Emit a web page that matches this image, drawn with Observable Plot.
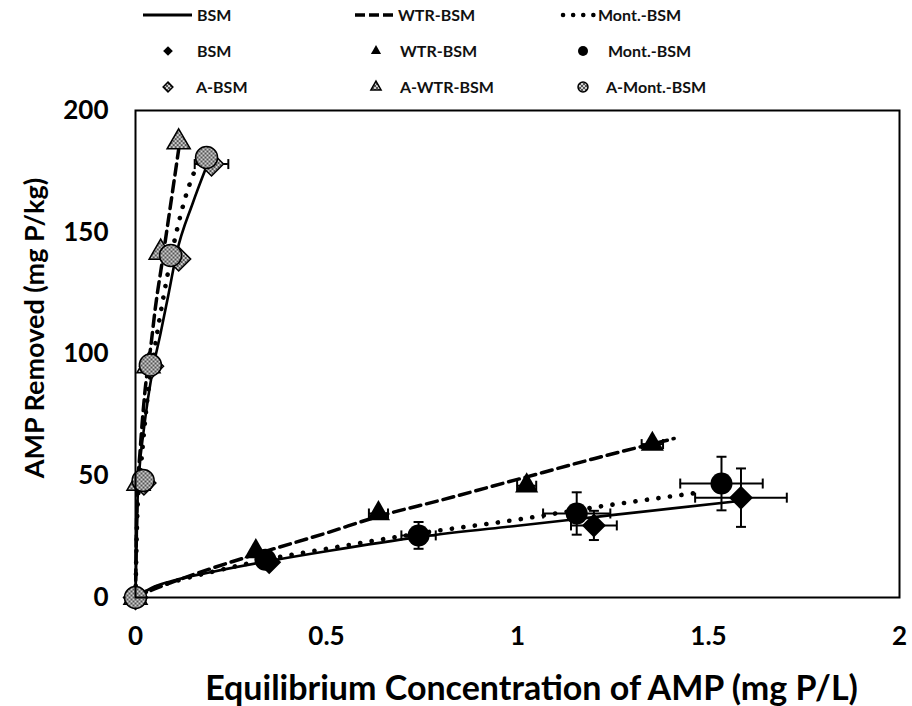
<!DOCTYPE html>
<html><head><meta charset="utf-8">
<script src="https://cdn.jsdelivr.net/npm/d3@7"></script>
<script src="https://cdn.jsdelivr.net/npm/@observablehq/plot@0.6"></script>
<style>body{margin:0;background:#fff;} svg{display:block}</style>
</head><body><div id="chart"></div>
<script>
// ---- axis ticks & titles ----
const xTicks = [0, 0.5, 1, 1.5, 2];
const yTicks = [0, 50, 100, 150, 200];
const xTitle = "Equilibrium Concentration of AMP (mg P/L)";
const yTitle = "AMP Removed (mg P/kg)";

// ---- measured points ----
const bsmX = [0, 0.35, 1.2, 1.585];
const bsmY = [0, 14.5, 29.6, 41];
const bsmXErr = [0, 0, 0.06, 0.12];
const bsmYErr = [0, 0, 6, 12];

const wtrX = [0, 0.315, 0.636, 1.024, 1.353];
const wtrY = [0, 18.9, 34.5, 45.9, 63];
const wtrXErr = [0, 0, 0.025, 0.025, 0.028];
const wtrYErr = [0, 0, 0, 0, 0];

const monX = [0, 0.34, 0.741, 1.155, 1.534];
const monY = [0, 15.5, 25.5, 34.5, 46.8];
const monXErr = [0, 0, 0.045, 0.088, 0.108];
const monYErr = [0, 0, 5.5, 8.7, 11];

const aBsmX = [0, 0.022, 0.042, 0.113, 0.199];
const aBsmY = [0, 47, 95, 139, 178];
const aBsmXErr = [0, 0, 0, 0, 0.044];
const aBsmYErr = [0, 0, 0, 0, 0];

const aWtrX = [0, 0.008, 0.034, 0.066, 0.113];
const aWtrY = [0, 46.8, 95, 141.7, 187];

const aMonX = [0, 0.02, 0.039, 0.092, 0.186];
const aMonY = [0, 48, 95.5, 140.5, 180.7];

// ---- fitted curves ----
const bsmFitX = [0, 0.05, 0.1, 0.2, 0.35, 0.5, 0.75, 1.0, 1.2, 1.4, 1.575];
const bsmFitY = [0, 4.5, 7, 10.5, 15, 19, 25, 29.5, 33, 36.5, 39.5];
const monFitX = [0, 0.05, 0.1, 0.2, 0.34, 0.5, 0.75, 1.0, 1.2, 1.47];
const monFitY = [0, 4, 6.5, 10.5, 15.5, 20, 26.5, 32, 37, 43];
const wtrFitX = [0, 0.05, 0.1, 0.2, 0.32, 0.5, 0.64, 0.8, 1.0, 1.2, 1.41];
const wtrFitY = [0, 3.5, 6.5, 12, 18, 26.5, 33.5, 40, 48.5, 57, 65.3];
const aBsmFitX = [0, 0.005, 0.01, 0.021, 0.033, 0.047, 0.065, 0.087, 0.107, 0.15, 0.186];
const aBsmFitY = [0, 38, 52, 68, 82, 95, 108, 125, 141, 162, 177];
const aMonFitX = [0, 0.005, 0.015, 0.03, 0.05, 0.075, 0.1, 0.13, 0.165];
const aMonFitY = [0, 35, 55, 80, 102, 125, 145, 164, 179];
const aWtrFitX = [0, 0.004, 0.012, 0.025, 0.04, 0.052, 0.07, 0.086, 0.1, 0.113];
const aWtrFitY = [0, 40, 60, 85, 103, 119, 138, 155, 170, 184];

// ---- legend ----
const legendLineLabels = ["BSM", "WTR-BSM", "Mont.-BSM"];
const legendPointLabels = ["BSM", "WTR-BSM", "Mont.-BSM"];
const legendAdsLabels = ["A-BSM", "A-WTR-BSM", "A-Mont.-BSM"];

// ---- helpers ----
const pts = (xs, ys) => xs.map((x, i) => ({x, y: ys[i]}));
const errs = (xs, ys, dxs, dys) => xs.map((x, i) => ({x, y: ys[i], dx: dxs[i], dy: dys[i]}));
const allErr = [
  ...errs(bsmX, bsmY, bsmXErr, bsmYErr),
  ...errs(wtrX, wtrY, wtrXErr, wtrYErr),
  ...errs(monX, monY, monXErr, monYErr),
  ...errs(aBsmX, aBsmY, aBsmXErr, aBsmYErr)
];
const errV = allErr.filter(d => d.dy > 0);
const errH = allErr.filter(d => d.dx > 0);
const capH = {draw(ctx, size) { const r = Math.sqrt(size / Math.PI); ctx.moveTo(-r, 0); ctx.lineTo(r, 0); }};
const capV = {draw(ctx, size) { const r = Math.sqrt(size / Math.PI); ctx.moveTo(0, -r); ctx.lineTo(0, r); }};

const solid = {stroke: "#000", strokeWidth: 2.6, curve: "monotone-x"};
const dashed = {stroke: "#000", strokeWidth: 3.5, strokeDasharray: "11,6", curve: "monotone-x"};
const dotted = {stroke: "#000", strokeWidth: 4.6, strokeDasharray: "0.1,11.5", strokeLinecap: "round", curve: "monotone-x"};
const HATCH = "url(#hatch)";

const svg = Plot.plot({
  width: 912, height: 706,
  marginLeft: 135, marginRight: 13, marginTop: 110, marginBottom: 109,
  style: {fontFamily: "Lato, 'Open Sans', sans-serif", fontSize: "26px", fontWeight: "bold", color: "#000", background: "#fff"},
  x: {domain: [0, 2], ticks: xTicks, tickFormat: d => String(d), tickSize: 0, tickPadding: 29, label: null},
  y: {domain: [0, 200], ticks: yTicks, tickFormat: d => String(d), tickSize: 0, tickPadding: 27, label: null},
  marks: [
    Plot.line(pts(aBsmFitX, aBsmFitY), {x: "x", y: "y", ...solid}),
    Plot.line(pts(aWtrFitX, aWtrFitY), {x: "x", y: "y", ...dashed}),
    Plot.line(pts(aMonFitX, aMonFitY), {x: "x", y: "y", ...dotted}),
    Plot.line(pts(bsmFitX, bsmFitY), {x: "x", y: "y", ...solid}),
    Plot.line(pts(wtrFitX, wtrFitY), {x: "x", y: "y", ...dashed}),
    Plot.line(pts(monFitX, monFitY), {x: "x", y: "y", ...dotted}),
    Plot.ruleX(errV, {x: "x", y1: d => d.y - d.dy, y2: d => d.y + d.dy, stroke: "#000", strokeWidth: 2}),
    Plot.dot(errV, {x: "x", y: d => d.y - d.dy, symbol: capH, r: 5, stroke: "#000", strokeWidth: 2, fill: "none"}),
    Plot.dot(errV, {x: "x", y: d => d.y + d.dy, symbol: capH, r: 5, stroke: "#000", strokeWidth: 2, fill: "none"}),
    Plot.ruleY(errH, {y: "y", x1: d => d.x - d.dx, x2: d => d.x + d.dx, stroke: "#000", strokeWidth: 2}),
    Plot.dot(errH, {y: "y", x: d => d.x - d.dx, symbol: capV, r: 5, stroke: "#000", strokeWidth: 2, fill: "none"}),
    Plot.dot(errH, {y: "y", x: d => d.x + d.dx, symbol: capV, r: 5, stroke: "#000", strokeWidth: 2, fill: "none"}),
    Plot.dot(pts(bsmX, bsmY), {x: "x", y: "y", symbol: "diamond2", r: 10.8, fill: "#000", stroke: "none"}),
    Plot.dot(pts(wtrX, wtrY), {x: "x", y: "y", symbol: "triangle", r: 8.6, fill: "#000", stroke: "none"}),
    Plot.dot(pts(monX, monY), {x: "x", y: "y", symbol: "circle", r: 11, fill: "#000", stroke: "none"}),
    Plot.dot(pts(aBsmX, aBsmY), {x: "x", y: "y", symbol: "diamond2", r: 10.8, fill: HATCH, stroke: "#000", strokeWidth: 1.5}),
    Plot.dot(pts(aWtrX, aWtrY), {x: "x", y: "y", symbol: "triangle", r: 8.6, fill: HATCH, stroke: "#000", strokeWidth: 1.5}),
    Plot.dot(pts(aMonX, aMonY), {x: "x", y: "y", symbol: "circle", r: 11, fill: HATCH, stroke: "#000", strokeWidth: 1.5}),
    Plot.frame({stroke: "#000", strokeWidth: 2}),
    Plot.text([xTitle], {text: d => d, frameAnchor: "bottom", textAnchor: "middle", lineAnchor: "middle", dx: 14, dy: 92, fontSize: 34, fontWeight: "bold"}),
    Plot.text([yTitle], {text: d => d, frameAnchor: "left", textAnchor: "middle", lineAnchor: "middle", rotate: -90, dx: -100, dy: -26, fontSize: 27, fontWeight: "bold"})
  ]
});

// pattern for the "A-" markers
const root = d3.select(svg);
const defs = root.insert("defs", ":first-child");
const pat = defs.append("pattern").attr("id", "hatch").attr("patternUnits", "userSpaceOnUse")
  .attr("width", 4).attr("height", 4);
pat.append("rect").attr("width", 4).attr("height", 4).attr("fill", "#d0d0d0");
pat.append("circle").attr("cx", 1).attr("cy", 1).attr("r", 1).attr("fill", "#2a2a2a");
pat.append("circle").attr("cx", 3).attr("cy", 3).attr("r", 1).attr("fill", "#2a2a2a");

// legend
const lg = root.append("g").attr("font-size", 16).attr("font-weight", "bold").attr("fill", "#111").attr("text-anchor", "start");
const rowY = [15, 51, 87];
const colSample = [168, 376, 583];
const colText = [[197, 398, 598], [197, 400, 608], [196, 400, 606]];
// row 1: line samples
lg.append("line").attr("x1", 143).attr("x2", 192).attr("y1", rowY[0]).attr("y2", rowY[0]).attr("stroke", "#000").attr("stroke-width", 3);
lg.append("line").attr("x1", 355).attr("x2", 393).attr("y1", rowY[0]).attr("y2", rowY[0]).attr("stroke", "#000").attr("stroke-width", 3.5).attr("stroke-dasharray", "10,4");
lg.append("line").attr("x1", 563).attr("x2", 594).attr("y1", rowY[0]).attr("y2", rowY[0]).attr("stroke", "#000").attr("stroke-width", 4.5).attr("stroke-dasharray", "0.1,10").attr("stroke-linecap", "round");
const syms = [d3.symbolDiamond2, d3.symbolTriangle, d3.symbolCircle];
const symSize = [60, 45, 78];
syms.forEach((s, i) => {
  lg.append("path").attr("d", d3.symbol(s, symSize[i])()).attr("transform", `translate(${colSample[i]},${rowY[1]})`).attr("fill", "#000");
  lg.append("path").attr("d", d3.symbol(s, symSize[i])()).attr("transform", `translate(${colSample[i]},${rowY[2]})`).attr("fill", HATCH).attr("stroke", "#000").attr("stroke-width", 1.5);
});
[legendLineLabels, legendPointLabels, legendAdsLabels].forEach((labels, r) => {
  labels.forEach((t, c) => {
    lg.append("text").attr("x", colText[r][c]).attr("y", rowY[r]).attr("dy", "0.35em").text(t);
  });
});

document.getElementById("chart").appendChild(svg);
</script>
</body></html>
